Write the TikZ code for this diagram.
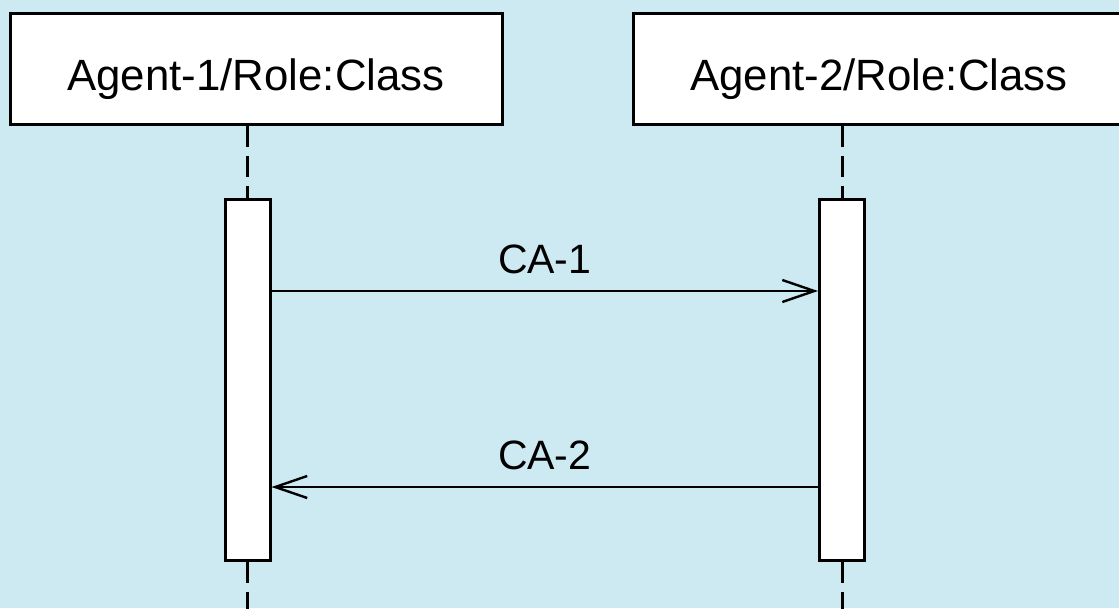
\documentclass[tikz,border=0pt]{standalone}
\usepackage{fontspec}
\setmainfont{Liberation Sans}
\usetikzlibrary{arrows.meta}
\definecolor{bgblue}{RGB}{205,233,241}
\begin{document}
\begin{tikzpicture}[x=1pt,y=-1pt,
  objbox/.style={draw=black, line width=3pt, fill=white, rectangle, inner sep=0pt,
    minimum width=492pt, minimum height=111pt, text height=42pt, text depth=0pt,
    font=\fontsize{43.8}{50}\selectfont},
  actbox/.style={draw=black, line width=3pt, fill=white, rectangle, inner sep=0pt,
    minimum width=45pt, minimum height=361pt},
  lifeline/.style={draw=black, line width=3pt, dash pattern=on 21pt off 9pt},
  msg/.style={draw=black, line width=2.8pt, -{Straight Barb[length=32pt,width=22pt,line width=2.4pt]}},
  msglabel/.style={font=\fontsize{41}{48}\selectfont, anchor=base, inner sep=0pt}
]
\useasboundingbox (0,0) rectangle (1119,608);
\clip (0,0) rectangle (1119,608);
\fill[bgblue] (0,0) rectangle (1119,608);

\node[objbox] (obj1) at (256,69) {Agent-1/Role:Class};
\node[objbox] (obj2) at (879,69) {Agent-2/Role:Class};

\node[actbox] (act1) at (247.5,379.5) {};
\node[actbox] (act2) at (842,379.5) {};

\coordinate (end1) at (247.5,620);
\coordinate (end2) at (842,620);

\draw[lifeline] (act1.north |- obj1.south) -- (act1.north);
\draw[lifeline] (act2.north |- obj2.south) -- (act2.north);
\draw[lifeline] (act1.south) -- (end1);
\draw[lifeline] (act2.south) -- (end2);

\draw[msg] (act1.east |- 0,291) -- node[msglabel, yshift=18pt] {CA-1} (act2.west |- 0,291);
\draw[msg] (act2.west |- 0,487) -- node[msglabel, yshift=18pt] {CA-2} (act1.east |- 0,487);
\end{tikzpicture}
\end{document}
